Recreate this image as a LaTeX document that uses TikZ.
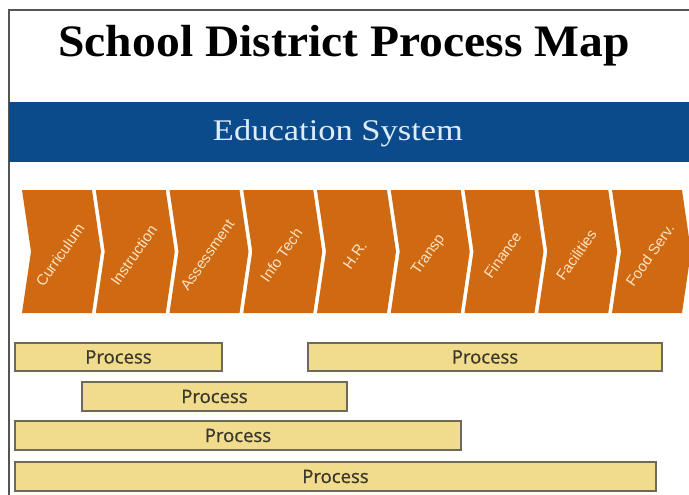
\documentclass[tikz,border=0pt]{standalone}
\usepackage{fontspec}
\setmainfont{Liberation Serif}
\newfontfamily\chevfont{Liberation Sans}
\newfontfamily\procfont{Open Sans}[FakeBold=0.8]
\definecolor{framecol}{RGB}{85,85,85}
\definecolor{bandblue}{RGB}{12,75,139}
\definecolor{edutext}{RGB}{220,236,248}
\definecolor{chevorange}{RGB}{208,106,18}
\definecolor{chevtext}{RGB}{250,228,195}
\definecolor{barfill}{RGB}{240,220,140}
\definecolor{barline}{RGB}{110,106,90}
\definecolor{bartext}{RGB}{58,56,44}
\tikzset{
  procbar/.style={draw=barline, fill=barfill, line width=1.3pt, inner sep=0pt,
    text=bartext, font=\procfont\fontsize{18.5}{18.5}\selectfont},
  chevlabel/.style={rotate=55, text=chevtext, inner sep=0pt, font=\chevfont\fontsize{15}{15}\selectfont},
}
\begin{document}
\begin{tikzpicture}[x=1pt,y=-1pt]
\useasboundingbox (0,0) rectangle (689,495);
\fill[white] (0,0) rectangle (689,495);
\draw[framecol, line width=2pt] (9,495) -- (9,10) -- (689,10);
% title
\node[anchor=base, font=\fontsize{45}{45}\selectfont\bfseries, xscale=1.057, inner sep=0pt] (title) at (344,57) {School District Process Map};
% band
\fill[bandblue] (9,102) rectangle (689,162);
\node[anchor=base, text=edutext, font=\fontsize{30}{30}\selectfont, xscale=1.15, inner sep=0pt] (edu) at (338,140) {Education System};
% chevrons
\foreach \i/\t in {0/Curriculum,1/Instruction,2/Assessment,3/Info Tech,4/H.R.,5/Transp,6/Finance,7/Facilities,8/Food Serv.}{
  \pgfmathsetmacro{\xx}{22+73.75*\i}
  \fill[chevorange] (\xx,190) -- ++(70,0) -- ++(9,61.5) -- ++(-9,61.5) -- ++(-70,0) -- ++(9,-61.5) -- cycle;
  \node[chevlabel] (c\i) at (\xx+38,255) {\t};
}
% process bars
\node[procbar, minimum width=207pt, minimum height=28pt] (p1) at (118.5,357) {Process};
\node[procbar, minimum width=354pt, minimum height=28pt] (p2) at (485,357) {Process};
\node[procbar, minimum width=265pt, minimum height=29pt] (p3) at (214.5,396.5) {Process};
\node[procbar, minimum width=446pt, minimum height=29pt] (p4) at (238,435.5) {Process};
\node[procbar, minimum width=641pt, minimum height=29pt] (p5) at (335.5,476.5) {Process};
\end{tikzpicture}
\end{document}
